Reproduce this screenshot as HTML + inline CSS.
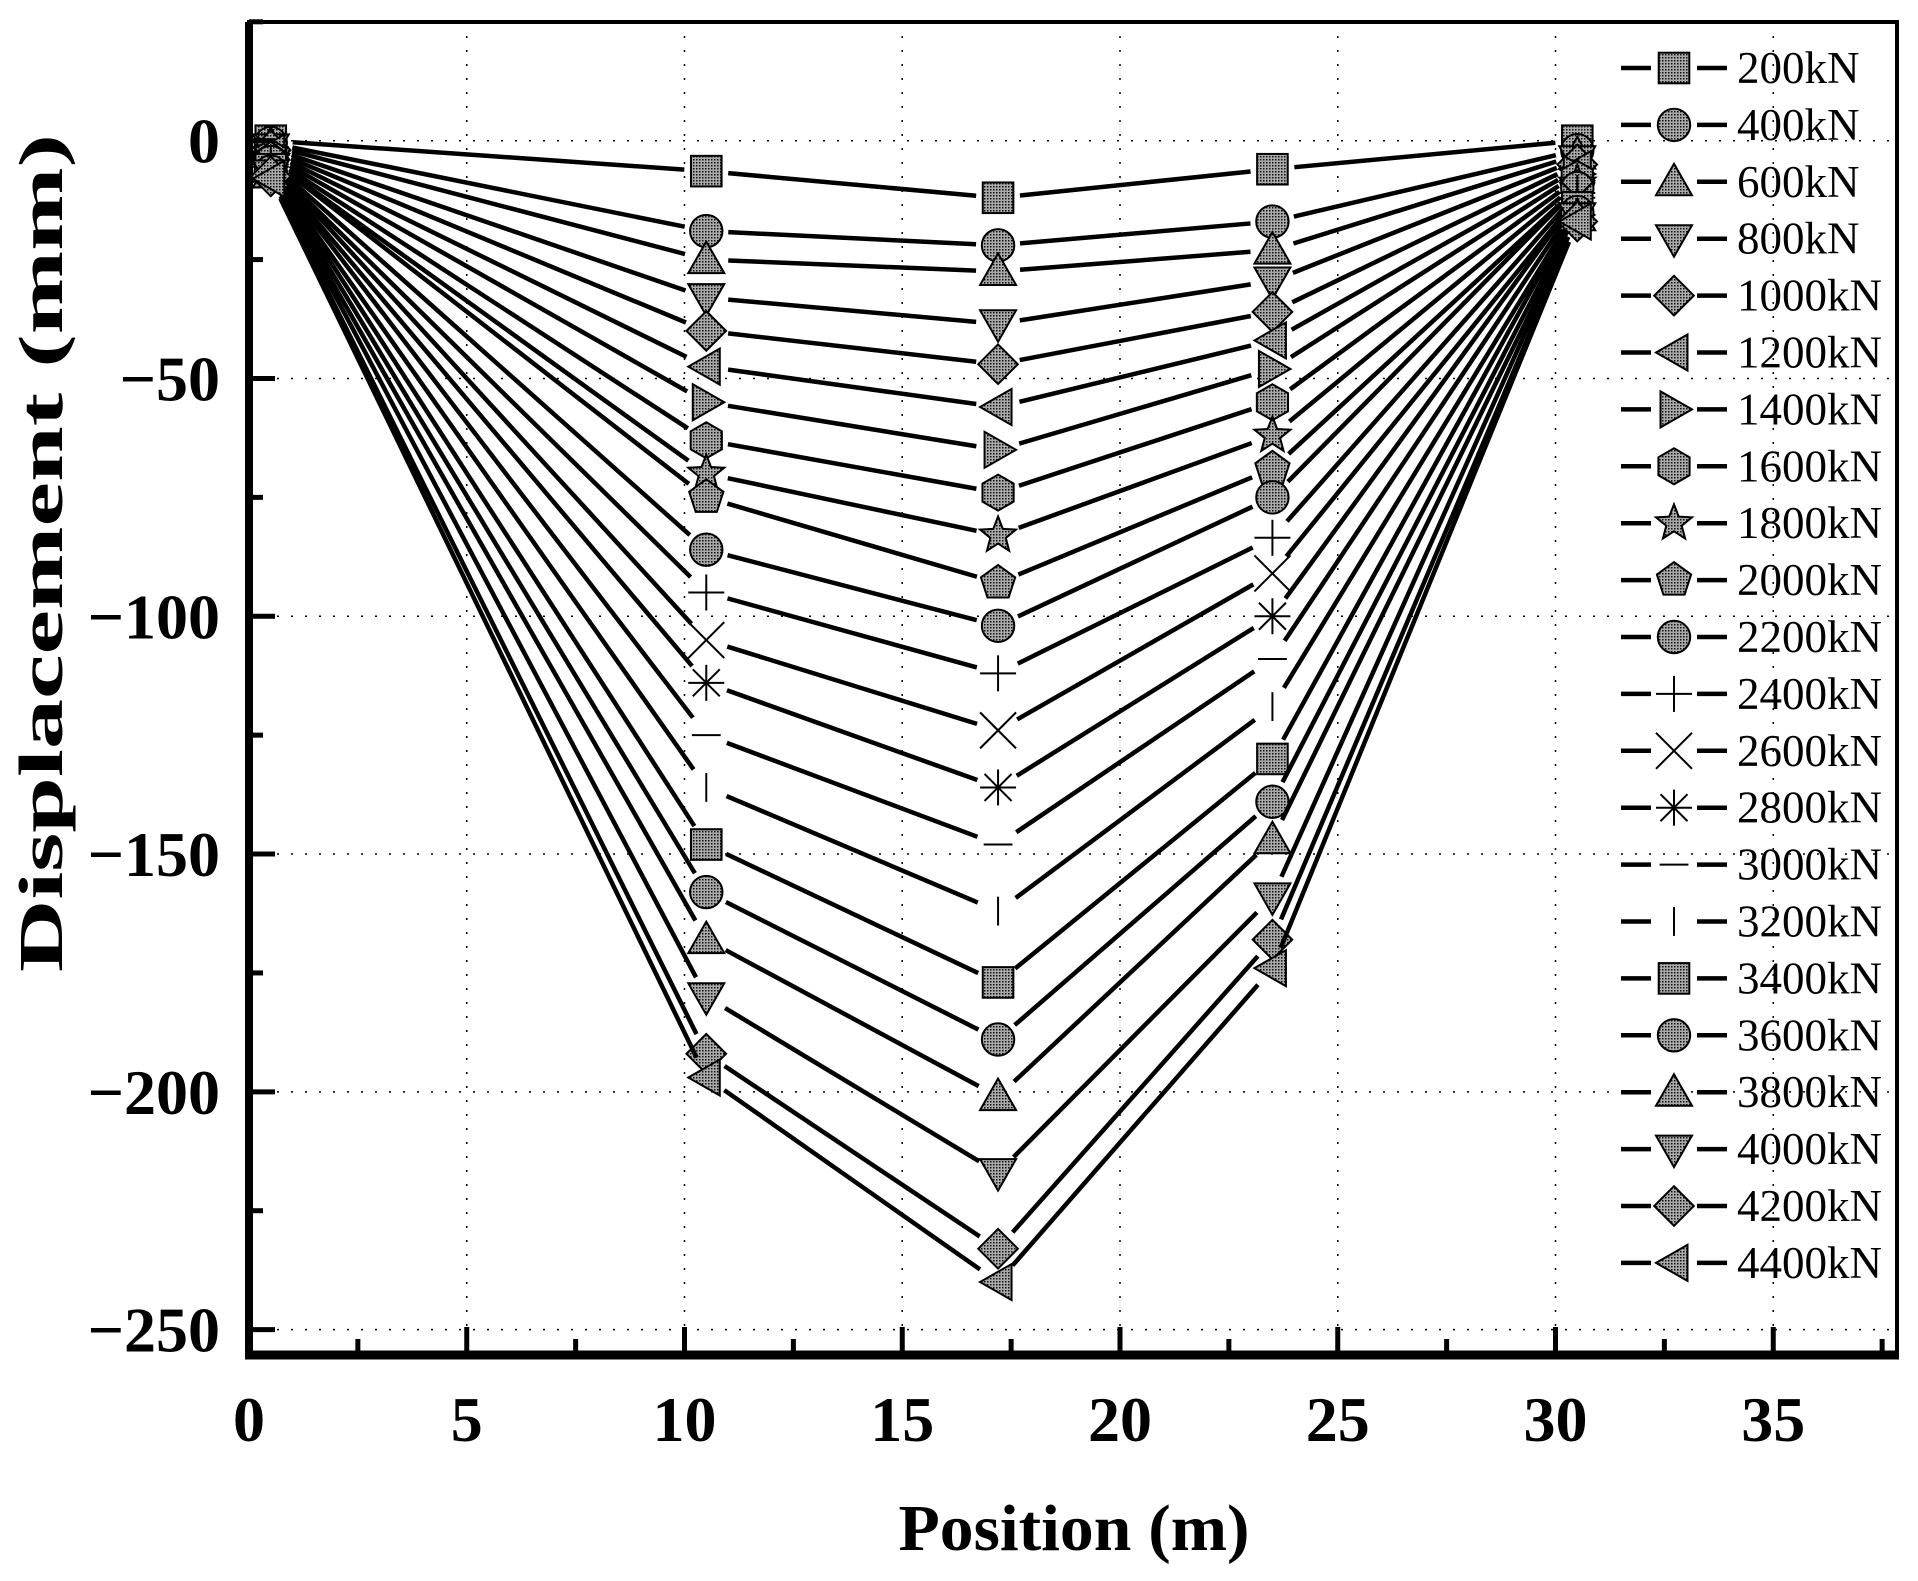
<!DOCTYPE html>
<html><head><meta charset="utf-8"><style>
html,body{margin:0;padding:0;background:#fff}
svg{display:block}
</style></head><body>
<svg id="chart" width="1918" height="1581" viewBox="0 0 1918 1581" xmlns="http://www.w3.org/2000/svg" font-family="'Liberation Serif', serif">
<defs>
<pattern id="dots" width="3" height="3" patternUnits="userSpaceOnUse"><rect width="3" height="3" fill="#aaa"/><rect width="1.5" height="1.5" fill="#111"/></pattern>
</defs>
<g id="grid"></g>
<g id="series"></g>
<g id="axes"></g>
<g id="legend"></g>
<text transform="translate(62,553) rotate(-90)" text-anchor="middle" font-size="62" font-weight="bold" textLength="838" lengthAdjust="spacingAndGlyphs">Displacement (mm)</text>
<text x="1074" y="1550" text-anchor="middle" font-size="66" font-weight="bold" textLength="351" lengthAdjust="spacingAndGlyphs">Position (m)</text>
</svg>
<script>
const positions = [0.5, 10.5, 17.2, 23.5, 30.5];
const loads = ["200kN","400kN","600kN","800kN","1000kN","1200kN","1400kN","1600kN","1800kN","2000kN","2200kN","2400kN","2600kN","2800kN","3000kN","3200kN","3400kN","3600kN","3800kN","4000kN","4200kN","4400kN"];
const s200=[0,-6.4,-12,-6,0];
const s400=[-0.5,-19,-22,-17,-2];
const s600=[-1,-25,-27.5,-23,-3];
const s800=[-1.5,-33,-38.5,-29.5,-4];
const s1000=[-2,-40,-47,-36,-5];
const s1200=[-2.5,-47.5,-56,-42,-6];
const s1400=[-3,-55,-65,-48,-7];
const s1600=[-3.5,-63,-74,-55,-8];
const s1800=[-4,-70,-83,-62,-9];
const s2000=[-4,-75,-93,-69,-10];
const s2200=[-4.5,-86,-102,-75,-10];
const s2400=[-5,-95,-112,-83.5,-11];
const s2600=[-5,-105,-124,-91,-12];
const s2800=[-5.5,-114,-136,-100,-12];
const s3000=[-5.5,-125,-148,-109,-13];
const s3200=[-6,-136,-162,-119,-14];
const s3400=[-6,-148,-177,-130,-14];
const s3600=[-6.5,-158,-189,-139,-15];
const s3800=[-7,-168,-201,-147,-16];
const s4000=[-7,-180,-217,-159,-16];
const s4200=[-7.5,-192,-233,-168,-17];
const s4400=[-8,-197,-240,-174,-17];
const seriesValues=[s200,s400,s600,s800,s1000,s1200,s1400,s1600,s1800,s2000,s2200,s2400,s2600,s2800,s3000,s3200,s3400,s3600,s3800,s4000,s4200,s4400];
const markerTypes=["square","circle","up","down","diamond","left","right","hexagon","star","pentagon","circle","plus","cross","asterisk","hbar","vbar","square","circle","up","down","diamond","left"];
const xTicks=[0,5,10,15,20,25,30,35];
const yTicks=[0,-50,-100,-150,-200,-250];

const NS="http://www.w3.org/2000/svg";
const L=249,R=1897,T=22,B=1353;
const xs=v=>L+v*43.55;
const ys=v=>140.7-v*4.7556;
function mk(tag,attrs,parent){const e=document.createElementNS(NS,tag);for(const k in attrs)e.setAttribute(k,attrs[k]);parent.appendChild(e);return e;}
const grid=document.getElementById('grid'),axes=document.getElementById('axes'),ser=document.getElementById('series'),leg=document.getElementById('legend');
xTicks.forEach(t=>{if(t>0){const g=mk('line',{x1:xs(t),x2:xs(t),y1:T,y2:B,stroke:'#000','stroke-width':1.5,'stroke-dasharray':'2 12'},grid);

}});
yTicks.forEach(t=>{const g=mk('line',{x1:L,x2:R,y1:ys(t),y2:ys(t),stroke:'#000','stroke-width':1.5,'stroke-dasharray':'2 12'},grid);

});

function marker(type,cx,cy,r,parent){
  const st={fill:'url(#dots)',stroke:'#000','stroke-width':2};
  let e;
  const poly=(pts)=>mk('polygon',Object.assign({points:pts.map(p=>(cx+p[0])+','+(cy+p[1])).join(' ')},st),parent);
  const reg=(n,rr,rot)=>{const p=[];for(let i=0;i<n;i++){const a=rot+i*2*Math.PI/n;p.push([rr*Math.cos(a),rr*Math.sin(a)]);}return p;};
  switch(type){
    case 'square': e=mk('rect',Object.assign({x:cx-r*0.85,y:cy-r*0.85,width:r*1.7,height:r*1.7},st),parent);break;
    case 'circle': e=mk('circle',Object.assign({cx,cy,r:r*0.9},st),parent);break;
    case 'up': e=poly([[0,-r],[r,r*0.75],[-r,r*0.75]]);break;
    case 'down': e=poly([[0,r],[r,-r*0.75],[-r,-r*0.75]]);break;
    case 'left': e=poly([[-r,0],[r*0.75,-r],[r*0.75,r]]);break;
    case 'right': e=poly([[r,0],[-r*0.75,-r],[-r*0.75,r]]);break;
    case 'diamond': e=poly([[0,-r*1.1],[r*1.1,0],[0,r*1.1],[-r*1.1,0]]);break;
    case 'hexagon': e=poly(reg(6,r,-Math.PI/2));break;
    case 'pentagon': e=poly(reg(5,r,-Math.PI/2));break;
    case 'star':{const p=[];for(let i=0;i<10;i++){const a=-Math.PI/2+i*Math.PI/5;const rr=i%2?r*0.45:r*1.05;p.push([rr*Math.cos(a),rr*Math.sin(a)]);}e=poly(p);break;}
    default:{
      e=mk('g',{stroke:'#000','stroke-width':2,fill:'none'},parent);
      const ln=(a,b,c,d)=>mk('line',{x1:cx+a,y1:cy+b,x2:cx+c,y2:cy+d},e);
      if(type==='plus'){ln(-r,0,r,0);ln(0,-r,0,r);}
      if(type==='cross'){ln(-r,-r,r,r);ln(-r,r,r,-r);}
      if(type==='asterisk'){ln(-r,0,r,0);ln(0,-r,0,r);ln(-r*.75,-r*.75,r*.75,r*.75);ln(-r*.75,r*.75,r*.75,-r*.75);}
      if(type==='hbar'){ln(-r*.8,0,r*.8,0);}
      if(type==='vbar'){ln(0,-r*.8,0,r*.8);}
    }
  }
  return e;
}

seriesValues.forEach((vals,si)=>{
  const g=mk('g',{},ser);
  
  
  const gap=22;
  for(let i=0;i<vals.length-1;i++){
    const x1=xs(positions[i]),y1=ys(vals[i]),x2=xs(positions[i+1]),y2=ys(vals[i+1]);
    const dx=x2-x1,dy=y2-y1,len=Math.hypot(dx,dy),ux=dx/len,uy=dy/len;
    const l=mk('line',{x1:x1+ux*gap,y1:y1+uy*gap,x2:x2-ux*gap,y2:y2-uy*gap,stroke:'#000','stroke-width':4.5},g);
    
    
  }
  vals.forEach((v,i)=>{
    const m=marker(markerTypes[si],xs(positions[i]),ys(v),18,g);
    
    
  });
  const ly=68+si*56.9;
  const lg=mk('g',{},leg);
  
  
  mk('line',{x1:1621,x2:1651,y1:ly,y2:ly,stroke:'#000','stroke-width':4.5},lg);
  mk('line',{x1:1697,x2:1727,y1:ly,y2:ly,stroke:'#000','stroke-width':4.5},lg);
  marker(markerTypes[si],1674,ly,18,lg);
  const t=mk('text',{x:1737,y:ly+15,'font-size':45},lg);t.textContent=loads[si];
});

mk('rect',{x:L,y:T,width:R-L,height:B-T,fill:'none',stroke:'#000','stroke-width':4},axes);
mk('line',{x1:L,x2:L,y1:T,y2:B+4,stroke:'#000','stroke-width':8},axes);
mk('line',{x1:L-4,x2:R+2,y1:B+2,y2:B+2,stroke:'#000','stroke-width':9},axes);
for(let v=0;v<=38;v+=2.5){const major=v%5===0;mk('line',{x1:xs(v),x2:xs(v),y1:B,y2:B-(major?26:14),stroke:'#000','stroke-width':5},axes);}
for(let v=25;v>=-250;v-=25){const major=v%50===0;mk('line',{x1:L,x2:L+(major?26:14),y1:ys(v),y2:ys(v),stroke:'#000','stroke-width':5},axes);}
xTicks.forEach(t=>{const e=mk('text',{x:xs(t),y:1441,'text-anchor':'middle','font-size':64,'font-weight':'bold'},axes);e.textContent=t;

});
yTicks.forEach(t=>{const e=mk('text',{x:220,y:ys(t)+22,'text-anchor':'end','font-size':64,'font-weight':'bold'},axes);e.textContent=t===0?'0':'\u2212'+Math.abs(t);

});
</script>
</body></html>
